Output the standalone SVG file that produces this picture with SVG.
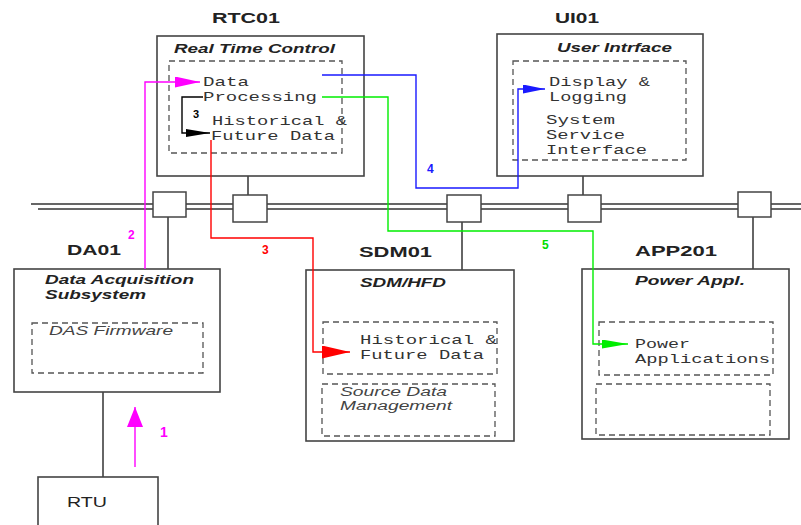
<svg xmlns="http://www.w3.org/2000/svg" width="801" height="525" viewBox="0 0 801 525">
<defs>
<style>
.box{fill:#fff;stroke:#444;stroke-width:1.6}
.dash{fill:none;stroke:#555;stroke-width:1.3;stroke-dasharray:6 4}
.bus{stroke:#666;stroke-width:1.8;fill:none}
.tap{fill:#fff;stroke:#444;stroke-width:1.5}
.link{stroke:#333;stroke-width:1.5;fill:none}
.nl{font-family:"Liberation Sans",Arial,sans-serif;font-weight:bold;font-size:15px;fill:#222}
.ti{font-family:"Liberation Sans",Arial,sans-serif;font-weight:bold;font-style:italic;font-size:13.5px;fill:#222}
.it{font-family:"Liberation Sans",Arial,sans-serif;font-style:italic;font-size:13px;fill:#444}
.mono{font-family:"Liberation Mono","Courier New",monospace;font-size:13px;fill:#333}
.num{font-family:"Liberation Sans",Arial,sans-serif;font-weight:bold;font-size:12px}
.c{fill:none;stroke-width:1.4}
</style>
<marker id="am" markerUnits="userSpaceOnUse" markerWidth="25" markerHeight="11" refX="25" refY="5.5" orient="auto"><path d="M0,0 L25,5.5 L0,11 z" fill="#ff00ff"/></marker>
<marker id="ak" markerUnits="userSpaceOnUse" markerWidth="24" markerHeight="8" refX="24" refY="4" orient="auto"><path d="M0,0 L24,4 L0,8 z" fill="#000"/></marker>
<marker id="ar" markerUnits="userSpaceOnUse" markerWidth="28" markerHeight="13" refX="28" refY="6.5" orient="auto"><path d="M0,0 L28,6.5 L0,13 z" fill="#ff0000"/></marker>
<marker id="ab" markerUnits="userSpaceOnUse" markerWidth="22" markerHeight="9" refX="22" refY="4.5" orient="auto"><path d="M0,0 L22,4.5 L0,9 z" fill="#1a1aff"/></marker>
<marker id="ag" markerUnits="userSpaceOnUse" markerWidth="26" markerHeight="9" refX="26" refY="4.5" orient="auto"><path d="M0,0 L26,4.5 L0,9 z" fill="#00ee00"/></marker>
<marker id="am1" markerUnits="userSpaceOnUse" markerWidth="20" markerHeight="16" refX="20" refY="8" orient="auto"><path d="M0,0 L20,8 L0,16 z" fill="#ff00ff"/></marker>
</defs>
<rect width="801" height="525" fill="#fff"/>

<g id="bus">
<line class="bus" x1="31" y1="204" x2="801" y2="204"/>
<line class="bus" x1="38" y1="209" x2="801" y2="209"/>
</g>

<g id="links">
<line class="link" x1="248" y1="176" x2="248" y2="195"/>
<line class="link" x1="583" y1="176" x2="583" y2="195"/>
<line class="link" x1="168" y1="217" x2="168" y2="269"/>
<line class="link" x1="462" y1="222" x2="462" y2="270"/>
<line class="link" x1="753" y1="217" x2="753" y2="269"/>
<line class="link" x1="103" y1="392" x2="103" y2="477"/>
</g>

<g id="taps">
<rect class="tap" x="153" y="192" width="33" height="25"/>
<rect class="tap" x="233" y="195" width="34" height="27"/>
<rect class="tap" x="447" y="195" width="34" height="27"/>
<rect class="tap" x="568" y="195" width="33" height="27"/>
<rect class="tap" x="738" y="192" width="33" height="25"/>
</g>

<g id="RTC01">
<text class="nl" x="212" y="23" textLength="68" lengthAdjust="spacingAndGlyphs">RTC01</text>
<rect class="box" x="157" y="36" width="207" height="140"/>
<text class="ti" x="174" y="53" textLength="161" lengthAdjust="spacingAndGlyphs">Real Time Control</text>
<rect class="dash" x="169" y="61" width="173" height="92"/>
<text class="mono" x="203" y="86" textLength="46" lengthAdjust="spacingAndGlyphs">Data</text>
<text class="mono" x="203" y="101" textLength="114" lengthAdjust="spacingAndGlyphs">Processing</text>
<text class="mono" x="212" y="125" textLength="135" lengthAdjust="spacingAndGlyphs">Historical &amp;</text>
<text class="mono" x="211" y="140" textLength="124" lengthAdjust="spacingAndGlyphs">Future Data</text>
</g>

<g id="UI01">
<text class="nl" x="555" y="23" textLength="44" lengthAdjust="spacingAndGlyphs">UI01</text>
<rect class="box" x="497" y="34" width="206" height="142"/>
<text class="ti" x="557" y="52" textLength="115" lengthAdjust="spacingAndGlyphs">User Intrface</text>
<rect class="dash" x="513" y="61" width="173" height="99"/>
<text class="mono" x="549" y="86" textLength="101" lengthAdjust="spacingAndGlyphs">Display &amp;</text>
<text class="mono" x="549" y="101" textLength="78" lengthAdjust="spacingAndGlyphs">Logging</text>
<text class="mono" x="546" y="124" textLength="69" lengthAdjust="spacingAndGlyphs">System</text>
<text class="mono" x="546" y="139" textLength="79" lengthAdjust="spacingAndGlyphs">Service</text>
<text class="mono" x="546" y="154" textLength="101" lengthAdjust="spacingAndGlyphs">Interface</text>
</g>

<g id="DA01">
<text class="nl" x="67" y="255" textLength="54" lengthAdjust="spacingAndGlyphs">DA01</text>
<rect class="box" x="14" y="269" width="206" height="123"/>
<text class="ti" x="45" y="284" textLength="149" lengthAdjust="spacingAndGlyphs">Data Acquisition</text>
<text class="ti" x="45" y="299" textLength="101" lengthAdjust="spacingAndGlyphs">Subsystem</text>
<rect class="dash" x="32" y="323" width="171" height="50"/>
<text class="it" x="49" y="335" textLength="124" lengthAdjust="spacingAndGlyphs">DAS Firmware</text>
</g>

<g id="SDM01">
<text class="nl" x="359" y="257" textLength="73" lengthAdjust="spacingAndGlyphs">SDM01</text>
<rect class="box" x="306" y="270" width="208" height="171"/>
<text class="ti" x="360" y="287" textLength="86" lengthAdjust="spacingAndGlyphs">SDM/HFD</text>
<rect class="dash" x="323" y="322" width="174" height="52"/>
<text class="mono" x="360" y="344" textLength="137" lengthAdjust="spacingAndGlyphs">Historical &amp;</text>
<text class="mono" x="360" y="359" textLength="124" lengthAdjust="spacingAndGlyphs">Future Data</text>
<rect class="dash" x="322" y="384" width="173" height="52"/>
<text class="it" x="340" y="396" style="font-size:12px" textLength="107" lengthAdjust="spacingAndGlyphs">Source Data</text>
<text class="it" x="340" y="410" style="font-size:12px" textLength="112" lengthAdjust="spacingAndGlyphs">Management</text>
</g>

<g id="APP201">
<text class="nl" x="635" y="256" textLength="82" lengthAdjust="spacingAndGlyphs">APP201</text>
<rect class="box" x="582" y="269" width="207" height="170"/>
<text class="ti" x="635" y="285" textLength="110" lengthAdjust="spacingAndGlyphs">Power Appl.</text>
<rect class="dash" x="599" y="322" width="174" height="53"/>
<text class="mono" x="635" y="348" textLength="55" lengthAdjust="spacingAndGlyphs">Power</text>
<text class="mono" x="635" y="363" textLength="135" lengthAdjust="spacingAndGlyphs">Applications</text>
<rect class="dash" x="596" y="384" width="174" height="51"/>
</g>

<g id="RTU">
<rect class="box" x="38" y="477" width="120" height="60"/>
<text class="nl" x="67" y="507" style="font-weight:normal;font-size:14px" textLength="40" lengthAdjust="spacingAndGlyphs">RTU</text>
</g>

<g id="connectors">
<path class="c" stroke="#ff00ff" d="M145,269 V82 H200" marker-end="url(#am)"/>
<path class="c" stroke="#000" d="M203,97 H182 V133 H210" marker-end="url(#ak)"/>
<path class="c" stroke="#ff0000" d="M211,140 V238 H313 V352 H350" marker-end="url(#ar)"/>
<path class="c" stroke="#1a1aff" d="M322,75 H416 V188 H518 V89 H545" marker-end="url(#ab)"/>
<path class="c" stroke="#00ee00" d="M322,97 H388 V231 H593 V344 H628" marker-end="url(#ag)"/>
<path class="c" stroke="#ff00ff" stroke-width="2" d="M135,467 V407" marker-end="url(#am1)"/>
<text class="num" x="128" y="239" fill="#ff00ff">2</text>
<text class="num" x="193" y="118" fill="#000" style="font-size:11px">3</text>
<text class="num" x="262" y="254" fill="#ff0000">3</text>
<text class="num" x="427" y="173" fill="#1a1aff">4</text>
<text class="num" x="542" y="249" fill="#00dd00">5</text>
<text class="num" x="160" y="437" fill="#ff00ff" style="font-size:14px">1</text>
</g>
</svg>
